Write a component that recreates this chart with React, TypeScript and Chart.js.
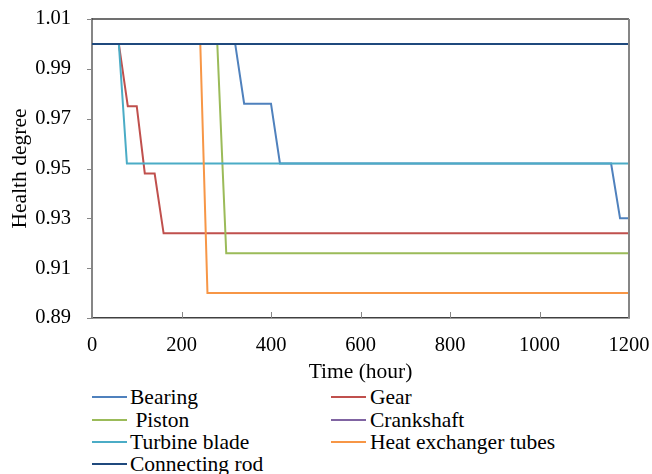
import React, { useEffect, useRef } from "react";
import { Chart, registerables } from "chart.js";

Chart.register(...registerables);

const seriesNames = ["Bearing", "Gear", " Piston", "Crankshaft", "Turbine blade", "Heat exchanger tubes", "Connecting rod"];
const seriesColors = ["#4F81BD", "#C0504D", "#9BBB59", "#8064A2", "#4BACC6", "#F79646", "#1F497D"];

const bearingHours = [0, 320, 340, 400, 420, 1160, 1180, 1200];
const bearingHealth = [1.0, 1.0, 0.976, 0.976, 0.952, 0.952, 0.930, 0.930];
const gearHours = [0, 60, 80, 100, 118, 140, 160, 1200];
const gearHealth = [1.0, 1.0, 0.975, 0.975, 0.948, 0.948, 0.924, 0.924];
const pistonHours = [0, 280, 300, 1200];
const pistonHealth = [1.0, 1.0, 0.916, 0.916];
const crankshaftHours = [0, 1200];
const crankshaftHealth = [1.0, 1.0];
const turbineHours = [0, 60, 78, 1200];
const turbineHealth = [1.0, 1.0, 0.952, 0.952];
const heatHours = [0, 242, 258, 1200];
const heatHealth = [1.0, 1.0, 0.900, 0.900];
const rodHours = [0, 1200];
const rodHealth = [1.0, 1.0];

const yTicks = [0.89, 0.91, 0.93, 0.95, 0.97, 0.99, 1.01];
const xTicks = [0, 200, 400, 600, 800, 1000, 1200];

const allHours = [bearingHours, gearHours, pistonHours, crankshaftHours, turbineHours, heatHours, rodHours];
const allHealth = [bearingHealth, gearHealth, pistonHealth, crankshaftHealth, turbineHealth, heatHealth, rodHealth];

const FONT = "'Liberation Serif', 'Times New Roman', serif";
const CANVAS_W = 652;
const CANVAS_H = 385;
const AREA_LEFT = 92;
const AREA_BOTTOM = 318;

const framePlugin = {
  id: "frame",
  afterDatasetsDraw(chart: any) {
    const { ctx, chartArea } = chart;
    const xs = chart.scales.x;
    const ys = chart.scales.y;
    ctx.save();
    ctx.lineWidth = 1;
    ctx.strokeStyle = "#868686";
    // inward x tick marks
    xTicks.forEach((v) => {
      const px = Math.round(xs.getPixelForValue(v)) + 0.5;
      ctx.beginPath();
      ctx.moveTo(px, chartArea.bottom);
      ctx.lineTo(px, chartArea.bottom - 6);
      ctx.stroke();
    });
    // outward y tick marks
    yTicks.forEach((v) => {
      const py = Math.round(ys.getPixelForValue(v)) + 0.5;
      ctx.beginPath();
      ctx.moveTo(chartArea.left - 5, py);
      ctx.lineTo(chartArea.left, py);
      ctx.stroke();
    });
    // top border
    ctx.strokeStyle = "#404040";
    ctx.lineWidth = 1.5;
    ctx.beginPath();
    ctx.moveTo(chartArea.left, chartArea.top);
    ctx.lineTo(chartArea.right, chartArea.top);
    ctx.stroke();
    // right border
    ctx.strokeStyle = "#868686";
    ctx.lineWidth = 2;
    ctx.beginPath();
    ctx.moveTo(chartArea.right, chartArea.top);
    ctx.lineTo(chartArea.right, chartArea.bottom);
    ctx.stroke();
    ctx.restore();
  },
};

export default function App() {
  const ref = useRef<HTMLCanvasElement>(null);

  useEffect(() => {
    if (!ref.current) return;
    const datasets = seriesNames.map((name, i) => ({
      label: name,
      data: allHours[i].map((h, j) => ({ x: h, y: allHealth[i][j] })),
      borderColor: seriesColors[i],
      backgroundColor: seriesColors[i],
      borderWidth: 2,
      pointRadius: 0,
      tension: 0,
      fill: false,
      order: seriesNames.length - 1 - i,
    }));
    const chart = new Chart(ref.current, {
      type: "line",
      data: { datasets },
      plugins: [framePlugin],
      options: {
        responsive: false,
        animation: false,
        layout: { padding: { top: 19, right: 23, left: 0, bottom: 0 } },
        plugins: { legend: { display: false }, tooltip: { enabled: false } },
        scales: {
          x: {
            type: "linear",
            min: 0,
            max: 1200,
            afterBuildTicks: (s: any) => {
              s.ticks = xTicks.map((v) => ({ value: v }));
            },
            afterFit: (s: any) => {
              s.height = CANVAS_H - AREA_BOTTOM;
            },
            grid: { display: true, drawOnChartArea: false, drawTicks: true, tickLength: 15, color: "rgba(0,0,0,0)", tickColor: "rgba(0,0,0,0)" },
            border: { display: true, color: "#404040", width: 1.5 },
            ticks: {
              padding: 0,
              color: "#000",
              font: { family: FONT, size: 20.5 },
              maxRotation: 0,
              callback: (v: any) => String(v),
            },
            title: {
              display: true,
              text: "Time (hour)",
              color: "#000",
              font: { family: FONT, size: 21.5 },
              padding: { top: 0, bottom: 0 },
            },
          },
          y: {
            type: "linear",
            min: 0.89,
            max: 1.01,
            afterBuildTicks: (s: any) => {
              s.ticks = yTicks.map((v) => ({ value: v }));
            },
            afterFit: (s: any) => {
              s.width = AREA_LEFT;
            },
            grid: { display: true, drawOnChartArea: false, drawTicks: true, tickLength: 21, color: "rgba(0,0,0,0)", tickColor: "rgba(0,0,0,0)" },
            border: { display: true, color: "#868686", width: 2 },
            ticks: {
              padding: 0,
              color: "#000",
              font: { family: FONT, size: 20.5 },
              callback: (v: any) => Number(v).toFixed(2),
            },
            title: {
              display: true,
              text: "Health degree",
              color: "#000",
              font: { family: FONT, size: 21.5 },
              padding: { top: 7, bottom: 0 },
            },
          },
        },
      },
    });
    return () => chart.destroy();
  }, []);

  const legendCols = [
    { lineLeft: 92, textLeft: 130 },
    { lineLeft: 331, textLeft: 370 },
  ];
  const rowCenters = [397, 420, 442, 464];

  return (
    <div style={{ position: "absolute", left: 0, top: 0, width: CANVAS_W, height: 474, background: "#fff" }}>
      <canvas ref={ref} width={CANVAS_W} height={CANVAS_H} style={{ display: "block", width: CANVAS_W, height: CANVAS_H }} />
      {seriesNames.map((name, i) => {
        const col = legendCols[i % 2];
        const cy = rowCenters[Math.floor(i / 2)];
        return (
          <React.Fragment key={name}>
            <div
              style={{
                position: "absolute",
                left: col.lineLeft,
                top: cy - 1,
                width: 35,
                height: 2,
                background: seriesColors[i],
              }}
            />
            <div
              style={{
                position: "absolute",
                left: col.textLeft,
                top: cy - 12,
                height: 24,
                lineHeight: "24px",
                fontFamily: FONT,
                fontSize: 21.5,
                color: "#000",
                whiteSpace: "pre",
              }}
            >
              {name}
            </div>
          </React.Fragment>
        );
      })}
    </div>
  );
}
